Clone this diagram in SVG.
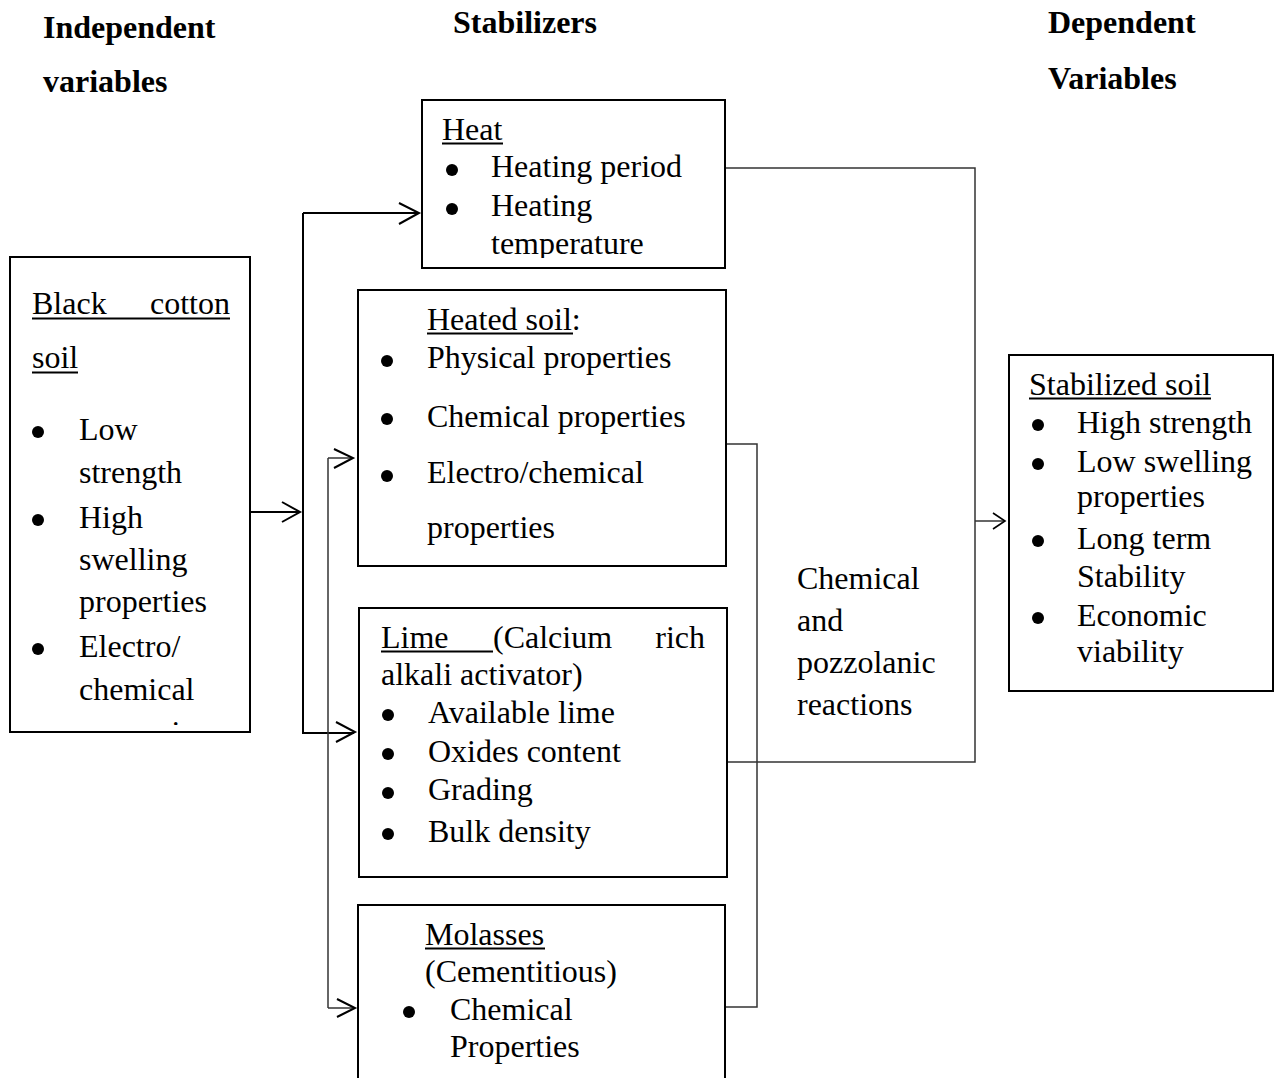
<svg xmlns="http://www.w3.org/2000/svg" width="1279" height="1078" viewBox="0 0 1279 1078">
<style>
  text { font-family: "Liberation Serif", "Times New Roman", serif; font-size: 32px; fill: #000; }
  .h { font-weight: bold; }
  .box { fill: #fff; stroke: #000; stroke-width: 2; }
  .ul { stroke: #000; stroke-width: 1.8; }
  .bul { fill: #000; }
  .con { fill: none; stroke: #000; stroke-width: 2; }
  .con2 { fill: none; stroke: #333; stroke-width: 1.5; }
  .head { fill: none; stroke: #000; stroke-width: 2; }
</style>
<defs>
  <clipPath id="clipLeft"><rect x="10" y="257" width="240" height="468"/></clipPath>
  <clipPath id="clipHeat"><rect x="422" y="100" width="303" height="158"/></clipPath>
</defs>
<rect width="1279" height="1078" fill="#fff"/>

<g id="headings">
  <text class="h" x="43" y="38">Independent</text>
  <text class="h" x="43" y="92">variables</text>
  <text class="h" x="453" y="33">Stabilizers</text>
  <text class="h" x="1048" y="33">Dependent</text>
  <text class="h" x="1048" y="89">Variables</text>
</g>

<g id="connectors">
  <path class="con" d="M250 512 H299"/>
  <path class="head" d="M282 502 L300 512 L282 522"/>
  <path class="con" d="M303 213 V733 H354"/>
  <path class="con" d="M303 213 H418"/>
  <path class="head" d="M399 203 L419 213 L399 224"/>
  <path class="head" d="M336 722 L355 732 L336 742"/>
  <path class="con2" d="M328 458 V1008"/>
  <path class="con2" d="M328 458 H352"/>
  <path class="head" d="M334 449 L353 458 L334 468"/>
  <path class="con2" d="M328 1008 H354"/>
  <path class="head" d="M337 999 L355 1008 L337 1017"/>
  <path class="con2" d="M725 168 H975 V762 H726"/>
  <path class="con2" d="M725 444 H757 V1007 H725"/>
  <path class="con2" d="M975 521 H1004"/>
  <path class="head" style="stroke-width:1.6" d="M993 513 L1005 521 L993 529"/>
  <text x="797" y="589">Chemical</text>
  <text x="797" y="631">and</text>
  <text x="797" y="673">pozzolanic</text>
  <text x="797" y="715">reactions</text>
</g>

<g id="node-black-cotton-soil">
  <rect class="box" x="10" y="257" width="240" height="475"/>
  <text x="32" y="314">Black</text>
  <text x="230" y="314" text-anchor="end">cotton</text>
  <line class="ul" x1="32" y1="318.5" x2="230" y2="318.5"/>
  <text x="32" y="368">soil</text>
  <line class="ul" x1="32" y1="372.5" x2="78" y2="372.5"/>
  <circle class="bul" cx="38" cy="432" r="6"/>
  <text x="79" y="440">Low</text>
  <text x="79" y="483">strength</text>
  <circle class="bul" cx="38" cy="520" r="6"/>
  <text x="79" y="528">High</text>
  <text x="79" y="570">swelling</text>
  <text x="79" y="612">properties</text>
  <circle class="bul" cx="38" cy="649" r="6"/>
  <text x="79" y="657">Electro/</text>
  <text x="79" y="700">chemical</text>
  <text x="79" y="743" clip-path="url(#clipLeft)">properties</text>
</g>

<g id="node-heat">
  <rect class="box" x="422" y="100" width="303" height="168"/>
  <text x="442" y="140">Heat</text>
  <line class="ul" x1="442" y1="143.5" x2="503" y2="143.5"/>
  <circle class="bul" cx="452" cy="170" r="6"/>
  <text x="491" y="177">Heating period</text>
  <circle class="bul" cx="452" cy="209" r="6"/>
  <text x="491" y="216">Heating</text>
  <text x="491" y="254" clip-path="url(#clipHeat)">temperature</text>
</g>

<g id="node-heated-soil">
  <rect class="box" x="358" y="290" width="368" height="276"/>
  <text x="427" y="330">Heated soil<tspan>:</tspan></text>
  <line class="ul" x1="427" y1="333.5" x2="573" y2="333.5"/>
  <circle class="bul" cx="387" cy="361" r="6"/>
  <text x="427" y="368">Physical properties</text>
  <circle class="bul" cx="387" cy="419" r="6"/>
  <text x="427" y="427">Chemical properties</text>
  <circle class="bul" cx="387" cy="476" r="6"/>
  <text x="427" y="483">Electro/chemical</text>
  <text x="427" y="538">properties</text>
</g>

<g id="node-lime">
  <rect class="box" x="359" y="608" width="368" height="269"/>
  <text x="381" y="648">Lime</text>
  <line class="ul" x1="381" y1="651.5" x2="493" y2="651.5"/>
  <text x="493" y="648">(Calcium</text>
  <text x="705" y="648" text-anchor="end">rich</text>
  <text x="381" y="685">alkali activator)</text>
  <circle class="bul" cx="388" cy="715" r="6"/>
  <text x="428" y="723">Available lime</text>
  <circle class="bul" cx="388" cy="754" r="6"/>
  <text x="428" y="762">Oxides content</text>
  <circle class="bul" cx="388" cy="793" r="6"/>
  <text x="428" y="800">Grading</text>
  <circle class="bul" cx="388" cy="834" r="6"/>
  <text x="428" y="842">Bulk density</text>
</g>

<g id="node-molasses">
  <rect class="box" x="358" y="905" width="367" height="190"/>
  <text x="425" y="945">Molasses</text>
  <line class="ul" x1="425" y1="948.5" x2="545" y2="948.5"/>
  <text x="425" y="982">(Cementitious)</text>
  <circle class="bul" cx="409" cy="1012" r="6"/>
  <text x="450" y="1020">Chemical</text>
  <text x="450" y="1057">Properties</text>
</g>

<g id="node-stabilized-soil">
  <rect class="box" x="1009" y="355" width="264" height="336"/>
  <text x="1029" y="395">Stabilized soil</text>
  <line class="ul" x1="1029" y1="398.5" x2="1211" y2="398.5"/>
  <circle class="bul" cx="1038" cy="425" r="6"/>
  <text x="1077" y="433">High strength</text>
  <circle class="bul" cx="1038" cy="464" r="6"/>
  <text x="1077" y="472">Low swelling</text>
  <text x="1077" y="507">properties</text>
  <circle class="bul" cx="1038" cy="541" r="6"/>
  <text x="1077" y="549">Long term</text>
  <text x="1077" y="587">Stability</text>
  <circle class="bul" cx="1038" cy="618" r="6"/>
  <text x="1077" y="626">Economic</text>
  <text x="1077" y="662">viability</text>
</g>
</svg>
